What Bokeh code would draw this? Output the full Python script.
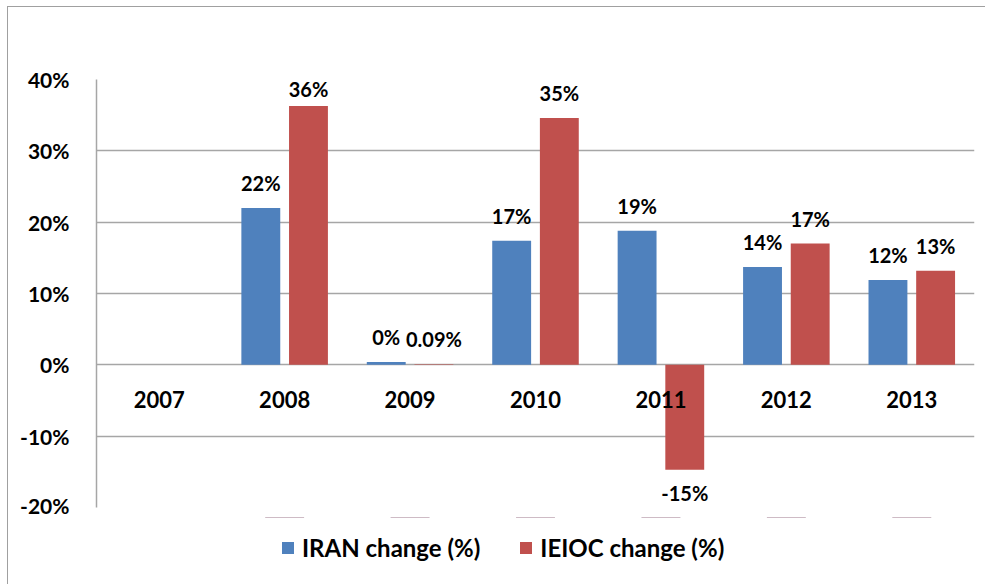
from bokeh.plotting import figure
from bokeh.layouts import column
from bokeh.models import (ColumnDataSource, Range1d, FactorRange, NumeralTickFormatter,
                          FixedTicker, Legend, LegendItem)
from bokeh.transform import dodge
from bokeh.core.properties import value
from bokeh.embed import file_html
from bokeh.resources import INLINE

years = ["2007", "2008", "2009", "2010", "2011", "2012", "2013"]
iran = [float("nan"), 0.220, 0.004, 0.174, 0.188, 0.137, 0.119]
ieioc = [float("nan"), 0.363, 0.0009, 0.346, -0.147, 0.170, 0.132]
iran_labels = ["", "22%", "0%", "17%", "19%", "14%", "12%"]
ieioc_labels = ["", "36%", "0.09%", "35%", "-15%", "17%", "13%"]
series_names = ["IRAN change (%)", "IEIOC change (%)"]
y_ticks = [-0.2, -0.1, 0.0, 0.1, 0.2, 0.3, 0.4]

BLUE = "#4F81BD"
RED = "#C0504D"
GRID = "#A6A6A6"
FONT = "Lato"


def label_pos(vals):
    out = []
    for v in vals:
        if v != v:
            out.append(float("nan"))
        elif v >= 0:
            out.append(min(v + 0.035, 0.386))
        else:
            out.append(v - 0.032)
    return out


src = ColumnDataSource(dict(
    year=years, iran=iran, ieioc=ieioc,
    iran_lbl=iran_labels, ieioc_lbl=ieioc_labels,
    iran_ly=label_pos(iran), ieioc_ly=label_pos(ieioc),
    zero=[0.0] * len(years),
))

p = figure(width=980, height=510, output_backend="svg", toolbar_location=None,
           x_range=FactorRange(*years, range_padding=0), y_range=Range1d(-0.2, 0.4),
           min_border_left=88, min_border_right=14, min_border_top=72, min_border_bottom=10)
p.outline_line_color = None
p.background_fill_color = "white"
p.border_fill_color = "white"

r1 = p.vbar(x=dodge("year", -0.19, range=p.x_range), top="iran", width=0.31, source=src,
            fill_color=BLUE, line_color=None)
r2 = p.vbar(x=dodge("year", 0.19, range=p.x_range), top="ieioc", width=0.31, source=src,
            fill_color=RED, line_color=None)

for col, ly, off in (("iran_lbl", "iran_ly", -0.19), ("ieioc_lbl", "ieioc_ly", 0.19)):
    p.text(x=dodge("year", off, range=p.x_range), y=ly, text=col, source=src,
           text_font=value(FONT), text_font_style="bold", text_font_size="20px",
           text_align="center", text_baseline="middle", text_color="black")

# category labels sitting just under the zero line
p.text(x="year", y="zero", text="year", source=src, y_offset=35,
       text_font=value(FONT), text_font_style="bold", text_font_size="22px",
       text_align="center", text_baseline="middle", text_color="black")

# y axis
p.yaxis.ticker = FixedTicker(ticks=y_ticks)
p.yaxis.formatter = NumeralTickFormatter(format="0%")
p.yaxis.major_label_text_font = FONT
p.yaxis.major_label_text_font_style = "bold"
p.yaxis.major_label_text_font_size = "21px"
p.yaxis.major_label_text_color = "black"
p.yaxis.axis_line_color = GRID
p.yaxis.axis_line_width = 1.5
p.yaxis.major_tick_line_color = None
p.yaxis.minor_tick_line_color = None
p.yaxis.major_tick_out = 0
p.yaxis.major_tick_in = 0
p.yaxis.major_label_standoff = 27

p.xaxis.visible = False

p.xgrid.grid_line_color = None
p.ygrid.ticker = FixedTicker(ticks=y_ticks)
p.ygrid.grid_line_color = GRID
p.ygrid.grid_line_width = 1.5

# legend strip underneath the plot (zero-height copies of the series; only the legend shows)
pl = figure(width=980, height=70, output_backend="svg", toolbar_location=None,
            x_range=FactorRange(*years), y_range=Range1d(-11, -10),
            x_axis_type=None, y_axis_type=None,
            min_border_left=88, min_border_right=14, min_border_top=0, min_border_bottom=9)
pl.outline_line_color = None
pl.grid.visible = False
pl.border_fill_color = "white"
l1 = pl.vbar(x="year", top="iran", bottom="iran", width=0.31, source=src,
             fill_color=BLUE, line_color=None)
l2 = pl.vbar(x="year", top="ieioc", bottom="ieioc", width=0.31, source=src,
             fill_color=RED, line_color=None)

legend = Legend(items=[LegendItem(label=series_names[0], renderers=[l1], index=1),
                       LegendItem(label=series_names[1], renderers=[l2], index=1)],
                orientation="horizontal", location=(184, 16))
legend.label_text_font = FONT
legend.label_text_font_style = "bold"
legend.label_text_font_size = "24px"
legend.label_text_color = "black"
legend.glyph_width = 15
legend.glyph_height = 15
legend.spacing = 38
legend.label_standoff = 7
legend.border_line_color = None
legend.background_fill_alpha = 0
legend.padding = 0
legend.margin = 0
pl.add_layout(legend)

layout = column(p, pl, spacing=0)
layout.styles = {"border": "1.5px solid #A0A0A0", "margin-left": "7px", "margin-top": "6px"}

open("out.html", "w").write(file_html(layout, INLINE))
